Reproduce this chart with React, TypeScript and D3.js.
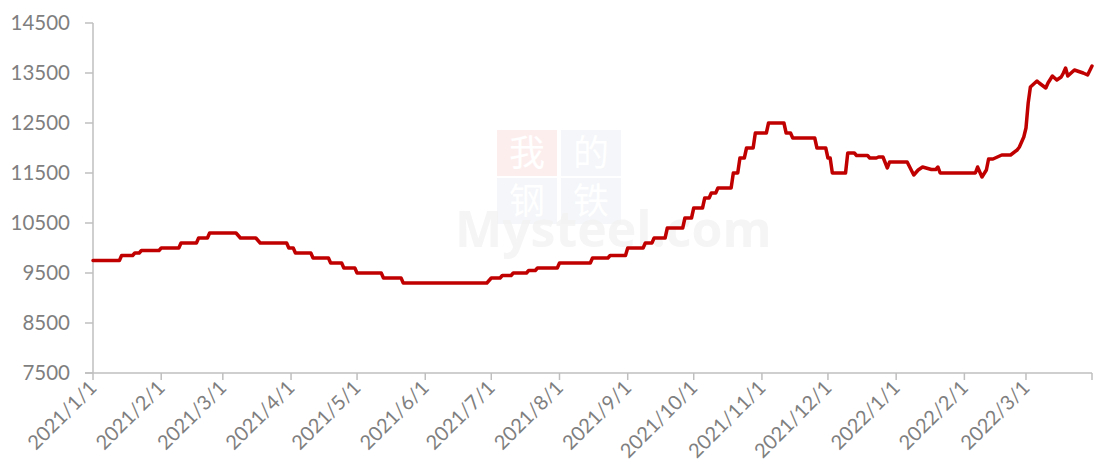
import * as d3 from "d3";

// 价格走势（元/吨）
const dates = [
  "2021-01-01", "2021-01-13", "2021-01-14", "2021-01-19", "2021-01-20", "2021-01-22", "2021-01-23", "2021-01-31",
  "2021-02-01", "2021-02-09", "2021-02-10", "2021-02-17", "2021-02-18", "2021-02-22", "2021-02-23", "2021-03-07",
  "2021-03-09", "2021-03-16", "2021-03-18", "2021-03-30", "2021-03-31", "2021-04-02", "2021-04-03", "2021-04-10",
  "2021-04-11", "2021-04-18", "2021-04-19", "2021-04-24", "2021-04-25", "2021-04-30", "2021-05-01", "2021-05-12",
  "2021-05-13", "2021-05-21", "2021-05-22", "2021-06-29", "2021-07-01", "2021-07-05", "2021-07-06", "2021-07-10",
  "2021-07-11", "2021-07-17", "2021-07-18", "2021-07-21", "2021-07-22", "2021-07-31", "2021-08-01", "2021-08-15",
  "2021-08-16", "2021-08-23", "2021-08-24", "2021-08-31", "2021-09-01", "2021-09-08", "2021-09-09", "2021-09-12",
  "2021-09-13", "2021-09-18", "2021-09-19", "2021-09-26", "2021-09-27", "2021-09-30", "2021-10-01", "2021-10-05",
  "2021-10-06", "2021-10-08", "2021-10-09", "2021-10-11", "2021-10-12", "2021-10-18", "2021-10-19", "2021-10-21",
  "2021-10-22", "2021-10-24", "2021-10-25", "2021-10-28", "2021-10-29", "2021-11-03", "2021-11-04", "2021-11-11",
  "2021-11-12", "2021-11-14", "2021-11-15", "2021-11-25", "2021-11-26", "2021-11-30", "2021-12-01", "2021-12-02",
  "2021-12-03", "2021-12-09", "2021-12-10", "2021-12-13", "2021-12-14", "2021-12-19", "2021-12-20", "2021-12-23",
  "2021-12-24", "2021-12-26", "2021-12-28", "2021-12-29", "2022-01-06", "2022-01-09", "2022-01-11", "2022-01-13",
  "2022-01-17", "2022-01-19", "2022-01-20", "2022-01-21", "2022-02-06", "2022-02-07", "2022-02-09", "2022-02-11",
  "2022-02-12", "2022-02-14", "2022-02-16", "2022-02-18", "2022-02-22", "2022-02-25", "2022-02-26", "2022-02-28",
  "2022-03-01", "2022-03-02", "2022-03-03", "2022-03-04", "2022-03-06", "2022-03-07", "2022-03-10", "2022-03-11",
  "2022-03-13", "2022-03-15", "2022-03-17", "2022-03-18", "2022-03-19", "2022-03-20", "2022-03-23", "2022-03-27",
  "2022-03-29", "2022-03-31"
];

const prices = [
  9750, 9750, 9850, 9850, 9900, 9900, 9950, 9950,
  10000, 10000, 10100, 10100, 10200, 10200, 10300, 10300,
  10200, 10200, 10100, 10100, 10000, 10000, 9900, 9900,
  9800, 9800, 9700, 9700, 9600, 9600, 9500, 9500,
  9400, 9400, 9300, 9300, 9400, 9400, 9450, 9450,
  9500, 9500, 9550, 9550, 9600, 9600, 9700, 9700,
  9800, 9800, 9850, 9850, 10000, 10000, 10100, 10100,
  10200, 10200, 10400, 10400, 10600, 10600, 10800, 10800,
  11000, 11000, 11100, 11100, 11200, 11200, 11500, 11500,
  11800, 11800, 12000, 12000, 12300, 12300, 12500, 12500,
  12300, 12300, 12200, 12200, 12000, 12000, 11800, 11800,
  11500, 11500, 11900, 11900, 11850, 11850, 11800, 11800,
  11820, 11820, 11600, 11720, 11720, 11460, 11560, 11620,
  11570, 11570, 11620, 11500, 11500, 11620, 11420, 11560,
  11780, 11780, 11820, 11860, 11860, 11960, 12020, 12220,
  12400, 12900, 13220, 13260, 13340, 13300, 13200, 13300,
  13440, 13360, 13420, 13500, 13600, 13440, 13560, 13500,
  13460, 13640
];

const yTicks = [7500, 8500, 9500, 10500, 11500, 12500, 13500, 14500];

const xTickLabels = [
  "2021/1/1", "2021/2/1", "2021/3/1", "2021/4/1", "2021/5/1", "2021/6/1", "2021/7/1", "2021/8/1",
  "2021/9/1", "2021/10/1", "2021/11/1", "2021/12/1", "2022/1/1", "2022/2/1", "2022/3/1"
];

const width = 1095;
const height = 474;
const marginLeft = 93;
const marginRight = 3;
const marginTop = 23;
const marginBottom = 101;

const font = "Lato, 'Open Sans', sans-serif";
const axisColor = "#bfbfbf";
const textColor = "#7f7f7f";

export default function App() {
  const parseDay = d3.timeParse("%Y-%m-%d");
  const parseLabel = d3.timeParse("%Y/%m/%d");

  const data = dates.map((d, i) => ({ date: parseDay(d) as Date, value: prices[i] }));
  const tickDates = xTickLabels.map(l => parseLabel(l) as Date);
  const endDate = parseDay("2022-03-31") as Date;

  const x = d3.scaleTime()
    .domain([tickDates[0], endDate])
    .range([marginLeft, width - marginRight]);

  const y = d3.scaleLinear()
    .domain([7500, 14500])
    .range([height - marginBottom, marginTop]);

  const line = d3.line<{ date: Date; value: number }>()
    .x(d => x(d.date))
    .y(d => y(d.value));

  const y0 = y(7500);

  return (
    <svg
      width={width}
      height={height}
      style={{ position: "absolute", left: 0, top: 0, background: "#fff" }}
    >
      {/* 水印 */}
      <g>
        <rect x={497} y={130} width={60} height={46} fill="#fdeeee" />
        <rect x={561} y={130} width={60} height={46} fill="#f4f6f9" />
        <rect x={497} y={178} width={60} height={46} fill="#f4f6f9" />
        <rect x={561} y={178} width={60} height={46} fill="#f4f6f9" />
        <g fontFamily="'Noto Sans CJK SC', sans-serif" fontSize={36} fill="#ffffff" textAnchor="middle">
          <text x={527} y={166}>我</text>
          <text x={591} y={166}>的</text>
          <text x={527} y={214}>钢</text>
          <text x={591} y={214}>铁</text>
        </g>
        <text x={455} y={247} fontFamily="'Open Sans', sans-serif" fontWeight={700}
          fontSize={50} fill="#f3f3f3" opacity={0.8}>Mysteel.com</text>
      </g>

      {/* Y 轴 */}
      <line x1={marginLeft} x2={marginLeft} y1={marginTop} y2={y0} stroke={axisColor} strokeWidth={1.5} />
      {yTicks.map(t => (
        <g key={t}>
          <line x1={marginLeft - 8} x2={marginLeft} y1={y(t)} y2={y(t)} stroke={axisColor} strokeWidth={1.5} />
          <text x={70} y={y(t)} dy="0.36em" textAnchor="end" fontFamily={font}
            fontSize={20.5} fill={textColor}>{t}</text>
        </g>
      ))}

      {/* X 轴 */}
      <line x1={marginLeft - 8} x2={width - marginRight} y1={y0} y2={y0} stroke={axisColor} strokeWidth={1.5} />
      {[...tickDates, endDate].map((d, i) => (
        <line key={i} x1={x(d)} x2={x(d)} y1={y0} y2={y0 + 7} stroke={axisColor} strokeWidth={1.5} />
      ))}
      {tickDates.map((d, i) => (
        <text key={i} transform={`translate(${x(d) + 5},${y0 + 16}) rotate(-45)`}
          textAnchor="end" fontFamily={font} fontSize={20} fill={textColor}>
          {xTickLabels[i]}
        </text>
      ))}

      {/* 价格线 */}
      <path d={line(data) ?? ""} fill="none" stroke="#c00000" strokeWidth={3.5}
        strokeLinejoin="round" strokeLinecap="round" />
    </svg>
  );
}
